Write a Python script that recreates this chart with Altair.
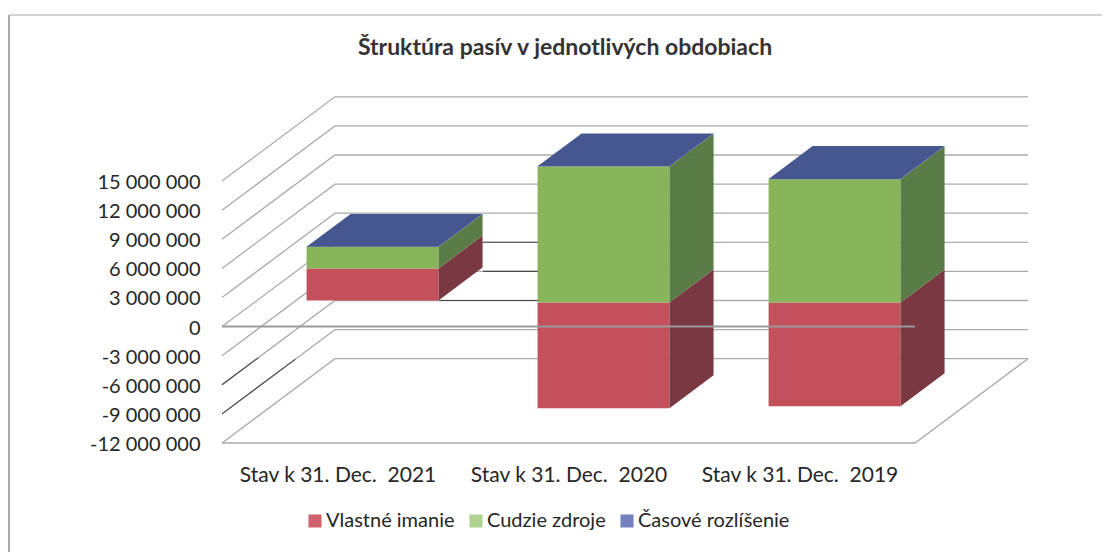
import json
import altair as alt
import pandas as pd

# Values in millions
obdobia = ["Stav k 31. Dec.\u00a0 2021", "Stav k 31. Dec.\u00a0 2020", "Stav k 31. Dec.\u00a0 2019"]
zaklad = [0.0, -0.2, -0.2]
vlastne_imanie = [3.3, -10.9, -10.7]
cudzie_zdroje = [2.2, 14.0, 12.7]
casove_rozlisenie = [0.03, 0.03, 0.03]
tick_values = [15, 12, 9, 6, 3, 0, -3, -6, -9, -12]
series = ["Vlastné imanie", "Cudzie zdroje", "Časové rozlíšenie"]

# chart projection (oblique 3D), in scale units
DX, DY = 0.489, 8.69      # whole depth of the floor
D0, D1 = 0.31, 0.70       # bar front / back as fraction of the depth
BAR_W = 0.571
FONT = "Lato"
INK = "#262626"
GRID = "#ababab"
FRONT = {"r": "#c4505c", "g": "#88b45a", "b": "#46568f"}
SIDE = {"r": "#7a3843", "g": "#5a7c47", "b": "#46568f"}
LEGEND = ["#d0626e", "#afd192", "#7481be"]

xs = alt.Scale(domain=[0, 3 + DX], nice=False, zero=False)
ys = alt.Scale(domain=[-12, 23.67], nice=False, zero=False)
labels = json.dumps(obdobia, ensure_ascii=False)
X_AX = alt.Axis(
    values=[0.5, 1.5, 2.5], labelExpr=labels + "[floor(datum.value)]", title=None, domain=False,
    ticks=False, grid=False, labelFont=FONT, labelFontSize=21, labelColor=INK, labelPadding=21, labelAngle=0,
    labelOverlap=False, labelFlush=False, labelLimit=400)
Y_AX = alt.Axis(
    values=[v for v in tick_values],
    labelExpr="replace(replace(format(datum.value * 1000000, ','), /,/g, ' '), '\u2212', '-')",
    title=None, domain=False, ticks=False, grid=False, labelFont=FONT, labelFontSize=20,
    labelColor=INK, labelPadding=22, labelOffset=1.5, labelOverlap=False, labelFlush=False)
X = alt.X("x:Q", scale=xs, axis=X_AX, stack=None)
Y = alt.Y("y:Q", scale=ys, axis=Y_AX, stack=None)

# gridlines
grid_rows = []
for v in tick_values:
    grid_rows += [dict(x=0, y=v, g=v, o=0), dict(x=DX, y=v + DY, g=v, o=1), dict(x=3 + DX, y=v + DY, g=v, o=2)]
grid_rows += [dict(x=0, y=-12, g=100, o=0), dict(x=3, y=-12, g=100, o=1), dict(x=3 + DX, y=-12 + DY, g=100, o=2)]
grid = alt.Chart(pd.DataFrame(grid_rows)).mark_line(color=GRID, strokeWidth=1.3).encode(
    x=X, y=Y, detail="g:N", order="o:Q")

# darker stretches of the gridlines that show in the picture
dark_rows = []
for v, frac in ((-6, 0.32), (-9, 0.65)):
    dark_rows += [dict(x=0, y=v, g=v, o=0), dict(x=frac * DX, y=v + frac * DY, g=v, o=1)]
for v, x_from in ((0, 1.13), (-3, 1.13), (-6, 0.94)):
    dark_rows += [dict(x=x_from, y=v + DY, g=v + 50, o=0), dict(x=1.37, y=v + DY, g=v + 50, o=1)]
dark = alt.Chart(pd.DataFrame(dark_rows)).mark_line(color="#4a4a4a", strokeWidth=1.1).encode(
    x=X, y=Y, detail="g:N", order="o:Q")

# bar faces
layers = [grid, dark]
for i in range(3):
    c0 = i + 0.5 - BAR_W / 2 + D0 * DX
    c1 = c0 + BAR_W
    dx, dy = (D1 - D0) * DX, (D1 - D0) * DY
    off = D0 * DY
    if vlastne_imanie[i] < 0:
        r_lo, r_hi = vlastne_imanie[i] + zaklad[i], zaklad[i]
    else:
        r_lo, r_hi = zaklad[i], vlastne_imanie[i] + zaklad[i]
    g_lo, g_hi = r_hi, r_hi + cudzie_zdroje[i]
    top = g_hi + casove_rozlisenie[i]
    for key, lo, hi in (("r", r_lo, r_hi), ("g", g_lo, g_hi), ("b", g_hi, top)):
        front = pd.DataFrame([dict(x=c0, x2=c1, y=lo + off, y2=hi + off)])
        layers.append(alt.Chart(front).mark_rect(color=FRONT[key]).encode(x=X, x2="x2:Q", y=Y, y2="y2:Q"))
        side = pd.DataFrame([
            dict(x=c1, y=lo + off, y2=hi + off),
            dict(x=c1 + dx, y=lo + off + dy, y2=hi + off + dy),
        ])
        layers.append(alt.Chart(side).mark_area(color=SIDE[key]).encode(x=X, y=Y, y2="y2:Q"))
    cap = pd.DataFrame([
        dict(y=top + off, x=c0, x2=c1),
        dict(y=top + off + dy, x=c0 + dx, x2=c1 + dx),
    ])
    layers.append(alt.Chart(cap).mark_area(color=FRONT["b"], orient="horizontal").encode(
        y=Y, x=X, x2="x2:Q"))

# zero line in front of bars
zero = pd.DataFrame([dict(x=0, y=0), dict(x=3, y=0)])
layers.append(alt.Chart(zero).mark_line(color="#9a9a9a", strokeWidth=2).encode(x=X, y=Y))

# legend
leg = pd.DataFrame([dict(x=0, y=0, s=s) for s in series])
layers.append(alt.Chart(leg).mark_point(filled=True, size=0, shape="square", opacity=0).encode(
    x=X, y=Y,
    fill=alt.Fill("s:N", scale=alt.Scale(domain=series, range=LEGEND), legend=alt.Legend(
        title=None, orient="none", legendX=83, legendY=414, direction="horizontal", columns=3,
        symbolType="square", symbolSize=170, symbolOpacity=1, symbolStrokeWidth=0,
        labelFont=FONT, labelFontSize=20, labelColor=INK, labelOffset=1, columnPadding=11, labelLimit=300))))

# frame of the chart
one = pd.DataFrame({"a": [0]})
layers.append(alt.Chart(one).mark_rule(color="#a8a8a8", strokeWidth=1.2).encode(
    x=alt.value(-213), x2=alt.value(880), y=alt.value(-82)))
layers.append(alt.Chart(one).mark_rule(color="#8c8c8c", strokeWidth=1.5).encode(
    x=alt.value(-213), y=alt.value(-82), y2=alt.value(455)))

chart = alt.layer(*layers).properties(
    width=806, height=346,
    padding={"left": 214, "top": 89, "right": 75, "bottom": 109},
    autosize=alt.AutoSizeParams(type="none"),
    background="white",
    title=alt.TitleParams("Štruktúra pasív v jednotlivých obdobiach", font=FONT, fontSize=23, fontWeight="bold",
                          color="#333333", anchor="middle", dx=-60, offset=0, dy=46),
).configure_view(stroke=None)

chart.save("out.html", embed_options={"renderer": "svg", "actions": False})
